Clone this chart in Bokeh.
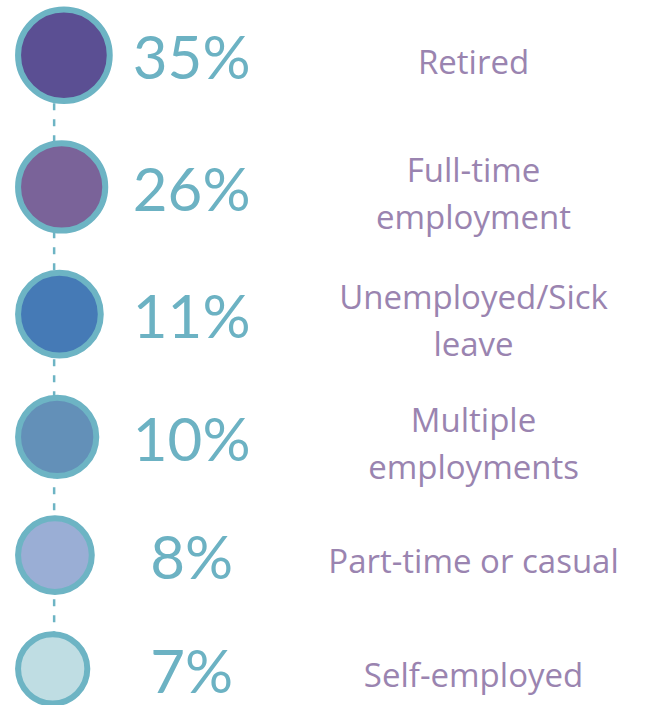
from bokeh.plotting import figure
from bokeh.models import ColumnDataSource, Range1d
from bokeh.core.properties import value
from bokeh.embed import file_html
from bokeh.resources import INLINE

# ---- data ----
categories = ["Retired", "Full-time\nemployment", "Unemployed/Sick\nleave",
              "Multiple\nemployments", "Part-time or casual", "Self-employed"]
shares = [35, 26, 11, 10, 8, 7]
fill_colors = ["#5b4f93", "#7a6399", "#457ab6", "#6390b8", "#9aaed5", "#bfdde3"]

# ---- style / layout ----
BORDER = "#6db4c4"
PCT_COLOR = "#6cb2c3"
LABEL_COLOR = "#9a84b0"
BORDER_W = 6
D0, DSTEP, GAP, TOP, LEFT = 100, 4.6, 37, 6, 15
LINE_X = 55
PCT_X = 196
LABEL_X = 485

diam = [D0 - DSTEP * i for i in range(len(shares))]
cy = []
for i, d in enumerate(diam):
    if i == 0:
        cy.append(TOP + d / 2)
    else:
        cy.append(cy[-1] + (diam[i - 1] + d) / 2 + GAP)
cx = [LEFT + d / 2 for d in diam]

src = ColumnDataSource(dict(
    cx=cx, cy=cy, r=[d / 2 - BORDER_W / 2 for d in diam],
    fill=fill_colors,
    pct=[f"{s}%" for s in shares],
    pct_x=[PCT_X] * len(shares),
    pct_y=[y + 1 for y in cy],
    lab=categories,
    lab_x=[LABEL_X] * len(shares),
    lab_y=[y + 6 for y in cy],
))

W, H = 633, 705
p = figure(width=W, height=H, output_backend="svg", toolbar_location=None,
           x_range=Range1d(0, 649), y_range=Range1d(721, 0),
           min_border=0, outline_line_color=None)
p.axis.visible = False
p.grid.visible = False
p.background_fill_color = "white"
p.border_fill_color = "white"

p.line(x=[LINE_X, LINE_X], y=[cy[0], cy[-1]], line_color=BORDER,
       line_width=2.5, line_dash="7 9")

p.circle(x="cx", y="cy", radius="r", source=src, fill_color="fill",
         line_color=BORDER, line_width=BORDER_W)

p.text(x="pct_x", y="pct_y", text="pct", source=src,
       text_font=value("Lato"), text_font_size="60px",
       text_color=PCT_COLOR, text_align="center", text_baseline="middle")

p.text(x="lab_x", y="lab_y", text="lab", source=src,
       text_font=value("Open Sans"), text_font_size="33px",
       text_color=LABEL_COLOR, text_align="center", text_baseline="middle",
       text_line_height=1.05)

open("out.html", "w").write(file_html(p, INLINE))
